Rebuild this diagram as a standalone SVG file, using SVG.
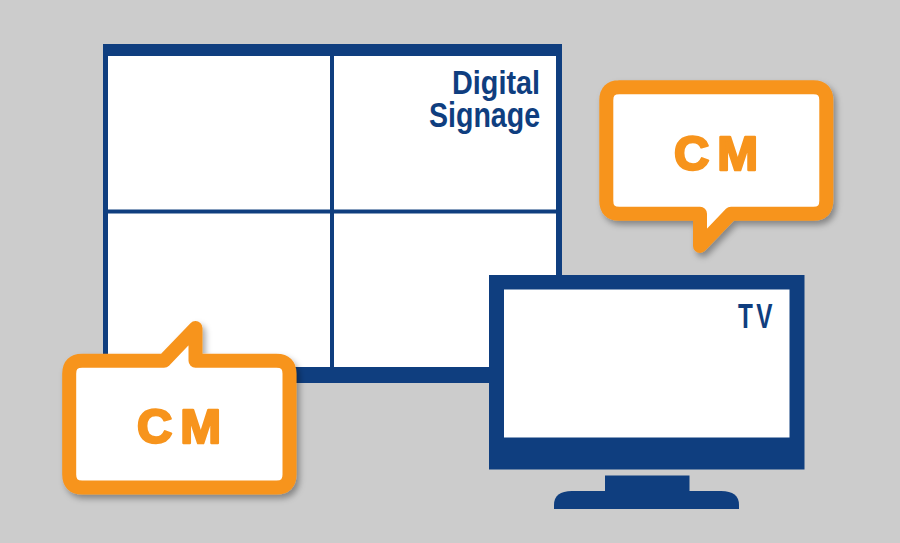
<svg xmlns="http://www.w3.org/2000/svg" width="900" height="543" viewBox="0 0 900 543">
<defs>
<style>
.navy{fill:#0f3e7f}
.white{fill:#ffffff}
.lbl{font-family:"Liberation Sans",Arial,sans-serif;font-weight:bold;fill:#0f3e7f}
.bubble{fill:#ffffff;stroke:#f7941d;stroke-width:14;stroke-linejoin:round}
.cm{font-family:"Liberation Sans",Arial,sans-serif;font-weight:bold;font-size:49px;fill:#f7941d;stroke:#f7941d;stroke-width:2.5;stroke-linejoin:round}
</style>
<filter id="sh" x="-20%" y="-20%" width="150%" height="150%">
<feDropShadow dx="3" dy="4" stdDeviation="3" flood-color="#000" flood-opacity="0.35"/>
</filter>
</defs>
<rect width="900" height="543" fill="#cccccc"/>
<g id="signage">
<rect class="navy" x="103" y="44" width="459" height="339"/>
<rect class="white" x="108" y="56" width="448" height="311"/>
<rect class="navy" x="330" y="56" width="4" height="311"/>
<rect class="navy" x="108" y="209.5" width="448" height="4"/>
<text class="lbl" font-size="34" x="540" y="93.5" text-anchor="end" textLength="88" lengthAdjust="spacingAndGlyphs">Digital</text>
<text class="lbl" font-size="35" x="540" y="127" text-anchor="end" textLength="111" lengthAdjust="spacingAndGlyphs">Signage</text>
</g>
<g id="tv">
<rect class="navy" x="489" y="275" width="315.5" height="194.5"/>
<rect class="white" x="504" y="289.5" width="285.5" height="148"/>
<rect class="navy" x="605" y="475.5" width="84.5" height="16"/>
<path class="navy" d="M554 509 L554 505 Q554 491 572 491 L721 491 Q739 491 739 505 L739 509 Z"/>
<text class="lbl" font-size="35" x="738" y="328" textLength="38" lengthAdjust="spacingAndGlyphs" letter-spacing="5">TV</text>
</g>
<g id="cm-top" filter="url(#sh)">
<path class="bubble" d="M619 87.3 L813.3 87.3 Q826.3 87.3 826.3 100.3 L826.3 200.7 Q826.3 213.7 813.3 213.7 L731 213.7 L700 246 L700 213.7 L619.3 213.7 Q606.3 213.7 606.3 200.7 L606.3 100.3 Q606.3 87.3 619.3 87.3 Z"/>
<text class="cm" x="674" y="170" textLength="84" lengthAdjust="spacing">CM</text>
</g>
<g id="cm-bottom" filter="url(#sh)">
<path class="bubble" d="M82.2 360.8 L164 360.8 L195.5 328 L195.5 360.8 L276.5 360.8 Q289.5 360.8 289.5 373.8 L289.5 474.5 Q289.5 487.5 276.5 487.5 L82.2 487.5 Q69.2 487.5 69.2 474.5 L69.2 373.8 Q69.2 360.8 82.2 360.8 Z"/>
<text class="cm" x="137" y="443" textLength="84" lengthAdjust="spacing">CM</text>
</g>
<g id="connectors"></g>
</svg>
